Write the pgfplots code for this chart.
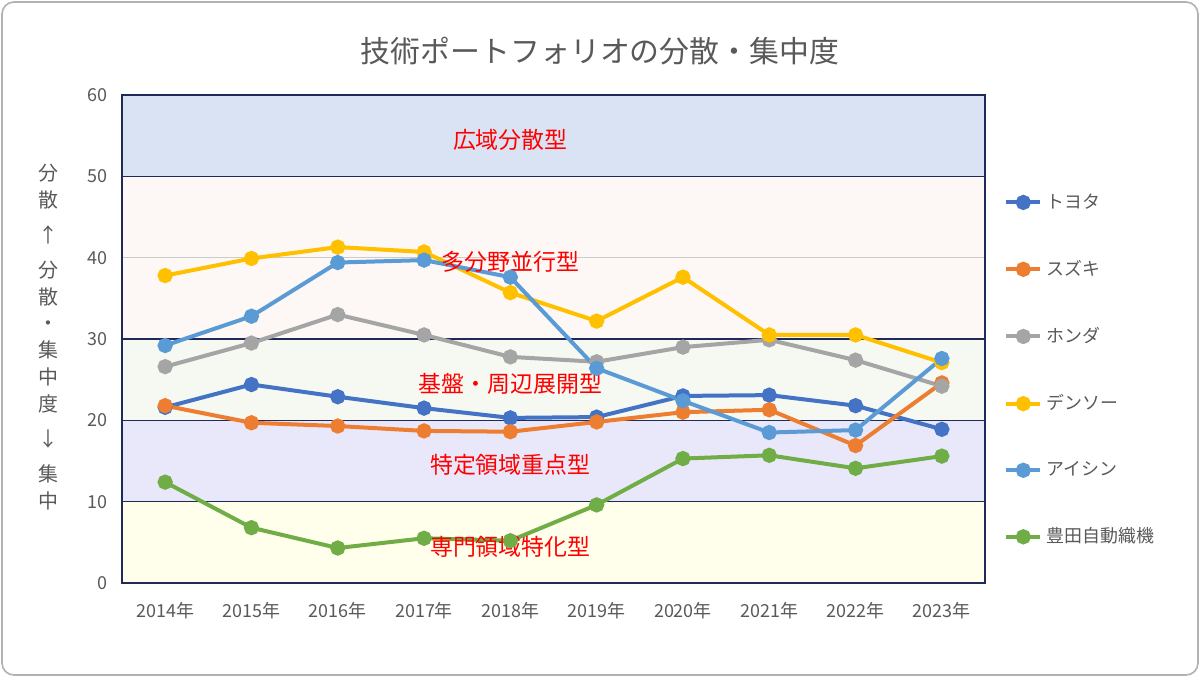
\documentclass[border=0pt]{standalone}
\usepackage{pgfplots}
\pgfplotsset{compat=1.18}
\usepackage{fontspec}
\setmainfont{Noto Sans CJK JP}
\definecolor{cT}{HTML}{4472C4}\definecolor{cS}{HTML}{ED7D31}\definecolor{cH}{HTML}{A5A5A5}
\definecolor{cD}{HTML}{FFC000}\definecolor{cA}{HTML}{5B9BD5}\definecolor{cG}{HTML}{70AD47}
\definecolor{navy}{HTML}{1F2A5A}\definecolor{txt}{HTML}{595959}
\begin{document}
\begin{tikzpicture}
\useasboundingbox (0,0) rectangle (600bp,338.5bp);
\draw[rounded corners=6bp, gray!60, line width=0.8bp] (1bp,1bp) rectangle (599bp,337.5bp);
\node[text=txt, font=\fontsize{15}{18}\selectfont] at (300bp,313bp) {技術ポートフォリオの分散・集中度};
\node[text=txt, font=\fontsize{10}{13.5}\selectfont, align=center] at (24bp,170bp) {分\\散\\[4bp]↑\\[4bp]分\\散\\・\\集\\中\\度\\[4bp]↓\\[4bp]集\\中};
\begin{axis}[at={(61bp,47bp)}, anchor=south west, scale only axis, width=431.5bp, height=244bp,
  xmin=-0.5, xmax=9.5, ymin=0, ymax=60, ytick={0,10,...,60},
  xtick={0,...,9}, xticklabels={2014年,2015年,2016年,2017年,2018年,2019年,2020年,2021年,2022年,2023年},
  tick style={draw=none}, axis line style={navy, line width=0.6bp},
  ticklabel style={text=txt, font=\fontsize{9}{11}\selectfont},
  /pgf/number format/assume math mode=true,
  xticklabel style={yshift=-6bp}, yticklabel style={xshift=-4bp},
  legend style={at={(1.015,0.815)}, anchor=north west, draw=none, fill=none, row sep=20.5bp, font=\fontsize{9}{11}\selectfont, text=txt},
  legend cell align=left,
  every axis plot/.append style={line width=2bp, mark=*, mark size=2.8bp},
  clip=false]
\fill[fill={rgb,255:red,255;green,255;blue,236}] (axis cs:-0.5,0) rectangle (axis cs:9.5,10);
\fill[fill={rgb,255:red,232;green,232;blue,250}] (axis cs:-0.5,10) rectangle (axis cs:9.5,20);
\fill[fill={rgb,255:red,245;green,249;blue,242}] (axis cs:-0.5,20) rectangle (axis cs:9.5,30);
\fill[fill={rgb,255:red,253;green,248;blue,245}] (axis cs:-0.5,30) rectangle (axis cs:9.5,50);
\fill[fill={rgb,255:red,218;green,227;blue,243}] (axis cs:-0.5,50) rectangle (axis cs:9.5,60);
\draw[gray!40, line width=0.6bp] (axis cs:-0.5,40) -- (axis cs:9.5,40);
\draw[navy, line width=0.7bp] (axis cs:-0.5,10) -- (axis cs:9.5,10);
\draw[navy, line width=0.7bp] (axis cs:-0.5,20) -- (axis cs:9.5,20);
\draw[navy, line width=0.7bp] (axis cs:-0.5,30) -- (axis cs:9.5,30);
\draw[navy, line width=0.7bp] (axis cs:-0.5,50) -- (axis cs:9.5,50);
\draw[navy, line width=0.6bp] (axis cs:-0.5,0) rectangle (axis cs:9.5,60);
\addplot[cT, mark options={fill=cT}] coordinates {(0,21.6)(1,24.4)(2,22.9)(3,21.5)(4,20.3)(5,20.4)(6,23.0)(7,23.1)(8,21.8)(9,18.9)};
\addplot[cS, mark options={fill=cS}] coordinates {(0,21.8)(1,19.7)(2,19.3)(3,18.7)(4,18.6)(5,19.8)(6,21.0)(7,21.3)(8,16.9)(9,24.6)};
\addplot[cH, mark options={fill=cH}] coordinates {(0,26.6)(1,29.5)(2,33.0)(3,30.5)(4,27.8)(5,27.2)(6,29.0)(7,29.9)(8,27.4)(9,24.2)};
\addplot[cD, mark options={fill=cD}] coordinates {(0,37.8)(1,39.9)(2,41.3)(3,40.7)(4,35.7)(5,32.2)(6,37.6)(7,30.5)(8,30.5)(9,27.1)};
\addplot[cA, mark options={fill=cA}] coordinates {(0,29.2)(1,32.8)(2,39.4)(3,39.7)(4,37.6)(5,26.4)(6,22.4)(7,18.5)(8,18.8)(9,27.6)};
\addplot[cG, mark options={fill=cG}] coordinates {(0,12.4)(1,6.8)(2,4.3)(3,5.5)(4,5.2)(5,9.6)(6,15.3)(7,15.7)(8,14.1)(9,15.6)};
\legend{トヨタ,スズキ,ホンダ,デンソー,アイシン,豊田自動織機}
\node[text=red, font=\fontsize{11.5}{13}\selectfont] at (axis cs:4,54.5) {広域分散型};
\node[text=red, font=\fontsize{11.5}{13}\selectfont] at (axis cs:4,39.5) {多分野並行型};
\node[text=red, font=\fontsize{11.5}{13}\selectfont] at (axis cs:4,24.5) {基盤・周辺展開型};
\node[text=red, font=\fontsize{11.5}{13}\selectfont] at (axis cs:4,14.5) {特定領域重点型};
\node[text=red, font=\fontsize{11.5}{13}\selectfont] at (axis cs:4,4.5) {専門領域特化型};
\end{axis}
\end{tikzpicture}
\end{document}
